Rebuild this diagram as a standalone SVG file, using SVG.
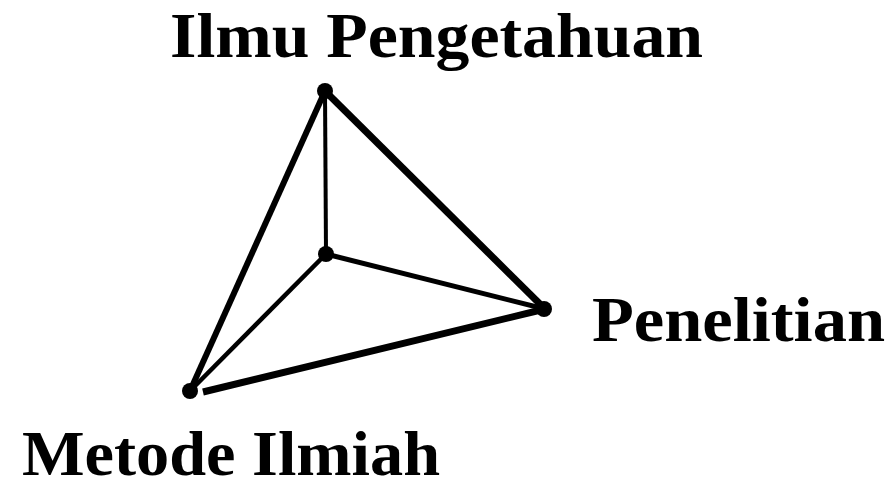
<svg xmlns="http://www.w3.org/2000/svg" width="893" height="479" viewBox="0 0 893 479">
<style>
.lbl{font-family:"Liberation Serif","Times New Roman",serif;font-weight:bold;font-size:64px;fill:#000}
.e{stroke:#000;stroke-linecap:butt;fill:none}
.dot{fill:#000}
</style>
<rect width="893" height="479" fill="#fff"/>
<g id="connectors">
<line class="e" x1="325" y1="91" x2="190" y2="391" stroke-width="6"/>
<line class="e" x1="325" y1="91" x2="545" y2="309" stroke-width="7"/>
<line class="e" x1="325" y1="91" x2="326" y2="254" stroke-width="4"/>
<line class="e" x1="326" y1="254" x2="545" y2="309" stroke-width="5"/>
<line class="e" x1="326" y1="254" x2="190" y2="391" stroke-width="4.5"/>
<line class="e" x1="203" y1="392" x2="545" y2="309" stroke-width="7"/>
</g>
<g id="node-ilmu">
<circle class="dot" cx="325" cy="91" r="8"/>
<text class="lbl" x="170" y="57" textLength="533" lengthAdjust="spacingAndGlyphs">Ilmu Pengetahuan</text>
</g>
<g id="node-center">
<circle class="dot" cx="326" cy="254" r="8"/>
</g>
<g id="node-penelitian">
<circle class="dot" cx="544" cy="309" r="8"/>
<text class="lbl" x="592" y="341" textLength="293" lengthAdjust="spacingAndGlyphs">Penelitian</text>
</g>
<g id="node-metode">
<circle class="dot" cx="190" cy="391" r="8"/>
<text class="lbl" x="22" y="475" textLength="418" lengthAdjust="spacingAndGlyphs">Metode Ilmiah</text>
</g>
</svg>
